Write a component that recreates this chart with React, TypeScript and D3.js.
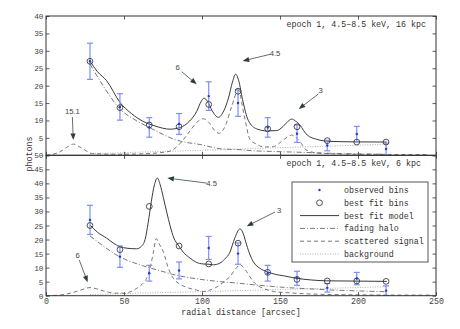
import React, { useEffect, useRef } from "react";
import * as d3 from "d3";

// observed bins (same for both dust distances)
const binR = [28.2, 47.4, 66.2, 85.3, 104.3, 123.1, 142.1, 160.9, 180.3, 199.2, 218];
const observed = [27, 13.9, 8, 9, 17, 15, 8, 6.2, 2.8, 6.1, 1.8];
const observedErr = [5.2, 3.8, 2.8, 3, 4.1, 3.8, 2.8, 2.5, 1.5, 2.2, 1.7];
const background = [0.4, 0.7, 1.0, 1.25, 1.5, 1.8, 2.1, 2.35, 2.6, 2.9, 3.2];

// 16 kpc fit
const fitBins16 = [27, 13.7, 8.7, 8.2, 14.6, 18.4, 7.6, 8.2, 4.2, 3.8, 3.8];
const modelR16 = [28.2, 33, 38.9, 47.4, 55, 62, 70, 79.5, 86, 92, 96.6, 99.5, 101.3, 103.5, 106.5, 110.5, 114, 117, 119.5, 121.6, 123.5, 126, 129.7, 135, 141.5, 147.9, 152, 155, 157.5, 160, 162.8, 165, 167.5, 173.5, 182, 200, 218.4];
const model16 = [27, 24, 21.4, 15.2, 11.9, 9.8, 8.4, 7.5, 8.0, 9.8, 12.6, 15.5, 16.4, 15.5, 12.8, 10.9, 12.8, 16.5, 21, 23.3, 21.5, 16, 10, 7.6, 7.0, 7.1, 8.3, 9.7, 10.4, 9.8, 8.7, 7.2, 5.8, 4.6, 4.0, 3.85, 3.8];
const scatR16 = [0, 8, 13, 17.5, 22, 30, 45, 60, 72, 79.5, 86, 92.3, 97, 100.8, 104.5, 108, 111, 115, 119, 123.3, 127, 130.8, 135, 139.3, 145.7, 152.1, 155, 157.5, 160, 162.8, 167, 175, 200, 245];
const scat16 = [0, 0.8, 2.2, 3.2, 2.3, 0.5, 0.3, 0.4, 0.7, 1.2, 3.4, 7.0, 9.6, 10.5, 9.4, 7.2, 6.3, 8.5, 14, 18.7, 11.5, 4.5, 3.2, 2.4, 2.5, 4.4, 5.3, 5.8, 5.2, 3.9, 1.5, 0.6, 0.3, 0.2];
const haloR16 = [28.2, 38, 47.4, 57, 66.2, 75, 82.7, 90, 98.7, 111.5, 124.4, 132.9, 145, 160.7, 180, 201, 218];
const halo16 = [26.2, 19, 13.3, 10.2, 8.0, 6.0, 4.5, 3.7, 3.1, 1.9, 1.6, 1.3, 1.1, 0.9, 0.6, 0.4, 0.3];

// 6 kpc fit
const fitBins6 = [25, 16.4, 31.8, 17.7, 11.3, 18.7, 8.3, 5.8, 5.25, 5.25, 5.1];
const modelR6 = [28.2, 33, 38.9, 43, 47.4, 52, 58.1, 61, 63.5, 65.5, 67.5, 69.5, 71.4, 73.2, 75.2, 77.5, 79.5, 82, 84.8, 88, 92.3, 96, 100.8, 104.5, 107.2, 111.5, 114.5, 117.9, 121, 124.4, 126.5, 128.6, 130.8, 132.9, 137, 141.5, 147, 152.2, 160.7, 170, 180, 200, 218.4];
const model6 = [25.2, 22.6, 20.5, 18.8, 17.5, 16.9, 16.7, 17.5, 20, 26, 33.5, 39.5, 41.9, 39.5, 35, 29.5, 25, 20.5, 18, 15.5, 13.4, 12, 11.3, 11.2, 11.0, 11.6, 13, 15.5, 20.5, 23.8, 22, 18.1, 14.5, 12.1, 9.8, 8.6, 7.6, 7.1, 6.2, 5.6, 5.3, 5.2, 5.1];
const scatR6 = [0, 8, 13.3, 20, 25, 28.2, 32, 38, 45, 50, 55, 58.1, 60.3, 62.5, 64.5, 66.2, 67.6, 69, 70.6, 72.5, 75.2, 78.4, 81.6, 85, 90, 96.6, 101, 106, 111.5, 114.5, 117.9, 121.5, 124.4, 126.5, 128.6, 132.9, 136, 139.3, 146, 154.3, 170, 200, 248];
const scat6 = [0, 0.2, 0.6, 1.6, 2.5, 2.9, 2.5, 1.5, 0.9, 0.9, 1.6, 2.6, 3.4, 4.6, 6.2, 8.8, 12.1, 16, 20.3, 18.5, 15.7, 9.8, 6.2, 4.4, 3.0, 2.0, 1.5, 2.2, 3.8, 5.2, 6.8, 9.5, 11, 10.2, 8.6, 5, 3.5, 2.6, 1.5, 1.1, 0.6, 0.3, 0.2];
const haloR6 = [28.2, 38, 47.4, 57, 66.7, 75, 82.7, 92, 100.8, 112, 124.4, 132.9, 143, 154.3, 167, 180, 200, 218.4];
const halo6 = [21.3, 17.2, 13.8, 11.6, 9.9, 8.6, 7.4, 6.4, 5.7, 5.0, 4.4, 3.9, 3.4, 2.9, 2.5, 2.1, 1.7, 1.4];

// annotations: label, text position, arrow tail, arrow tip (data units)
const notes16 = [
  { label: "15.1", text: [16.9, 12.5], from: [16.9, 11.0], to: [17.5, 4.4] },
  { label: "6", text: [84.4, 25.2], from: [87.0, 24.0], to: [96.6, 20.4] },
  { label: "4.5", text: [146.8, 29.3], from: [143.8, 29.0], to: [126.1, 27.1] },
  { label: "3", text: [176.1, 18.6], from: [174.6, 17.6], to: [162.0, 13.3] },
];
const notes6 = [
  { label: "6", text: [20.3, 14.3], from: [21.3, 12.75], to: [26.7, 4.8] },
  { label: "4.5", text: [106.2, 39.9], from: [103.0, 40.1], to: [77.8, 41.9] },
  { label: "3", text: [149.4, 30.25], from: [146.8, 29.8], to: [128.7, 24.75] },
];

const legendLabels = ["observed bins", "best fit bins", "best fit model", "fading halo", "scattered signal", "background"];

const MONO = "'Liberation Mono', 'DejaVu Sans Mono', monospace";
const SANS = "'Liberation Sans', Arial, sans-serif";

const App = () => {
  const ref = useRef<SVGSVGElement>(null);

  useEffect(() => {
    const svg = d3.select(ref.current);
    svg.selectAll("*").remove();

    const x = d3.scaleLinear().domain([0, 250]).range([46, 436]);
    const yTop = d3.scaleLinear().domain([0, 40]).range([155.3, 16]);
    const yBot = d3.scaleLinear().domain([0, 50]).range([295.7, 155.3]);

    const drawPanel = (y, p) => {
      const g = svg.append("g");
      const [y0, y1] = y.range();

      const mkLine = (xs) =>
        d3
          .line<number>()
          .x((_, i) => x(xs[i]))
          .y((d) => y(d))
          .curve(d3.curveMonotoneX);

      // axes (inward ticks)
      const tl = 3.5;
      const yTicks = d3.range(0, y.domain()[1] + 1, 5);
      const bottom = g
        .append("g")
        .attr("transform", `translate(0,${y0})`)
        .call(
          d3
            .axisBottom(x)
            .ticks(5)
            .tickSizeInner(-tl)
            .tickSizeOuter(0)
            .tickPadding(2.5)
            .tickFormat(p.xLabels ? d3.format("d") : () => "")
        );
      const top = g
        .append("g")
        .attr("transform", `translate(0,${y1})`)
        .call(d3.axisTop(x).ticks(5).tickSizeInner(-tl).tickSizeOuter(0).tickFormat(() => ""));
      const left = g
        .append("g")
        .attr("transform", `translate(${x.range()[0]},0)`)
        .call(
          d3
            .axisLeft(y)
            .tickValues(yTicks)
            .tickSizeInner(-tl)
            .tickSizeOuter(0)
            .tickPadding(2.5)
            // the lower panel's "50" already sits where the upper panel's "0" goes
            .tickFormat((d) => (p.hideZero && d === 0 ? "" : String(d)))
        );
      const right = g
        .append("g")
        .attr("transform", `translate(${x.range()[1]},0)`)
        .call(
          d3
            .axisRight(y)
            .tickValues(yTicks)
            .tickSizeInner(-tl)
            .tickSizeOuter(0)
            .tickFormat(() => "")
        );
      [bottom, top, left, right].forEach((a) => {
        a.select(".domain").remove();
        a.selectAll("line").attr("stroke", "#333").attr("stroke-width", 0.8);
        a.selectAll("text").attr("fill", "#444").style("font-family", MONO);
      });
      bottom.selectAll("text").style("font-size", "8.3px");
      left.selectAll("text").style("font-size", "7.8px");

      // background
      g.append("path")
        .attr("d", mkLine(binR)(background))
        .attr("fill", "none")
        .attr("stroke", "#9a9a9a")
        .attr("stroke-width", 0.8)
        .attr("stroke-dasharray", "1,1.5");

      // fading halo
      g.append("path")
        .attr("d", mkLine(p.haloR)(p.halo))
        .attr("fill", "none")
        .attr("stroke", "#555")
        .attr("stroke-width", 0.8)
        .attr("stroke-dasharray", "5,2,1,2");

      // scattered signal
      g.append("path")
        .attr("d", mkLine(p.scatR)(p.scat))
        .attr("fill", "none")
        .attr("stroke", "#555")
        .attr("stroke-width", 0.8)
        .attr("stroke-dasharray", "4,3");

      // best fit model
      g.append("path")
        .attr("d", mkLine(p.modelR)(p.model))
        .attr("fill", "none")
        .attr("stroke", "#3a3a3a")
        .attr("stroke-width", 1);

      // error bars
      const eb = g.append("g").attr("stroke", "#7d8ff5").attr("stroke-width", 1.2);
      binR.forEach((r, i) => {
        const lo = y(Math.max(0, observed[i] - observedErr[i]));
        const hi = y(observed[i] + observedErr[i]);
        const cx = x(r);
        eb.append("line").attr("x1", cx).attr("x2", cx).attr("y1", lo).attr("y2", hi);
        eb.append("line").attr("x1", cx - 3).attr("x2", cx + 3).attr("y1", lo).attr("y2", lo);
        eb.append("line").attr("x1", cx - 3).attr("x2", cx + 3).attr("y1", hi).attr("y2", hi);
      });

      g.selectAll(".fit")
        .data(p.fitBins)
        .enter()
        .append("circle")
        .attr("cx", (_, i) => x(binR[i]))
        .attr("cy", (d) => y(d))
        .attr("r", 2.9)
        .attr("fill", "none")
        .attr("stroke", "#333")
        .attr("stroke-width", 0.85);

      g.selectAll(".obs")
        .data(observed)
        .enter()
        .append("circle")
        .attr("cx", (_, i) => x(binR[i]))
        .attr("cy", (d) => y(d))
        .attr("r", 1.2)
        .attr("fill", "#1f35e0");

      // annotations
      p.notes.forEach((n) => {
        const tx = x(n.to[0]);
        const ty = y(n.to[1]);
        const fx = x(n.from[0]);
        const fy = y(n.from[1]);
        const len = Math.hypot(tx - fx, ty - fy);
        const ux = (tx - fx) / len;
        const uy = (ty - fy) / len;
        const hl = 6.5;
        const hw = 2.6;
        g.append("line")
          .attr("x1", fx)
          .attr("y1", fy)
          .attr("x2", tx - ux * hl * 0.8)
          .attr("y2", ty - uy * hl * 0.8)
          .attr("stroke", "#3d4a4a")
          .attr("stroke-width", 0.8);
        const bx = tx - ux * hl;
        const by = ty - uy * hl;
        g.append("path")
          .attr(
            "d",
            `M${tx},${ty}L${bx - uy * hw},${by + ux * hw}L${bx + uy * hw},${by - ux * hw}Z`
          )
          .attr("fill", "#2f3c3c");
        g.append("text")
          .attr("x", x(n.text[0]))
          .attr("y", y(n.text[1]))
          .attr("dy", "0.35em")
          .attr("text-anchor", "middle")
          .style("font-family", SANS)
          .style("font-size", "7.7px")
          .attr("fill", "#444")
          .text(n.label);
      });

      // frame
      g.append("rect")
        .attr("x", x.range()[0])
        .attr("y", y1)
        .attr("width", x.range()[1] - x.range()[0])
        .attr("height", y0 - y1)
        .attr("fill", "none")
        .attr("stroke", "#333")
        .attr("stroke-width", 1);

      g.append("text")
        .attr("x", 286.5)
        .attr("y", y1 + 8)
        .attr("dy", "0.35em")
        .style("font-family", MONO)
        .style("font-size", "8.3px")
        .attr("fill", "#333")
        .text(p.title);
    };

    drawPanel(yTop, {
      fitBins: fitBins16,
      modelR: modelR16,
      model: model16,
      scatR: scatR16,
      scat: scat16,
      haloR: haloR16,
      halo: halo16,
      notes: notes16,
      title: "epoch 1, 4.5\u20138.5 keV, 16 kpc",
      xLabels: false,
      hideZero: true,
    });
    drawPanel(yBot, {
      fitBins: fitBins6,
      modelR: modelR6,
      model: model6,
      scatR: scatR6,
      scat: scat6,
      haloR: haloR6,
      halo: halo6,
      notes: notes6,
      title: "epoch 1, 4.5\u20138.5 keV, 6 kpc",
      xLabels: true,
      hideZero: false,
    });

    // axis titles
    svg
      .append("text")
      .attr("transform", "translate(29,154) rotate(-90)")
      .attr("text-anchor", "middle")
      .attr("dy", "0.35em")
      .style("font-family", MONO)
      .style("font-size", "8.3px")
      .attr("fill", "#333")
      .text("photons");
    svg
      .append("text")
      .attr("x", 241)
      .attr("y", 315)
      .attr("text-anchor", "middle")
      .style("font-family", MONO)
      .style("font-size", "8.3px")
      .attr("fill", "#333")
      .text("radial distance [arcsec]");

    // legend
    const lg = svg.append("g");
    lg.append("rect")
      .attr("x", 292)
      .attr("y", 182)
      .attr("width", 136)
      .attr("height", 80)
      .attr("fill", "#fff")
      .attr("stroke", "#555")
      .attr("stroke-width", 1);
    const legendStyles = [
      null,
      null,
      { c: "#3a3a3a", d: null, w: 1 },
      { c: "#555", d: "5,2,1,2", w: 0.8 },
      { c: "#555", d: "4,3", w: 0.8 },
      { c: "#9a9a9a", d: "1,1.5", w: 0.8 },
    ];
    legendLabels.forEach((lab, i) => {
      const ly = 190 + i * 12.8;
      if (i === 0) {
        lg.append("circle").attr("cx", 319.5).attr("cy", ly).attr("r", 1.2).attr("fill", "#1f35e0");
      } else if (i === 1) {
        lg.append("circle")
          .attr("cx", 319.5)
          .attr("cy", ly)
          .attr("r", 2.9)
          .attr("fill", "none")
          .attr("stroke", "#333")
          .attr("stroke-width", 0.85);
      } else {
        const s = legendStyles[i];
        lg.append("line")
          .attr("x1", 300)
          .attr("x2", 339)
          .attr("y1", ly)
          .attr("y2", ly)
          .attr("stroke", s.c)
          .attr("stroke-width", s.w)
          .attr("stroke-dasharray", s.d);
      }
      lg.append("text")
        .attr("x", 344)
        .attr("y", ly)
        .attr("dy", "0.35em")
        .style("font-family", MONO)
        .style("font-size", "8.3px")
        .attr("fill", "#333")
        .text(lab);
    });
  }, []);

  return (
    <svg
      ref={ref}
      width={460}
      height={329}
      style={{ position: "absolute", left: 0, top: 0, background: "#fff" }}
    />
  );
};

export default App;
